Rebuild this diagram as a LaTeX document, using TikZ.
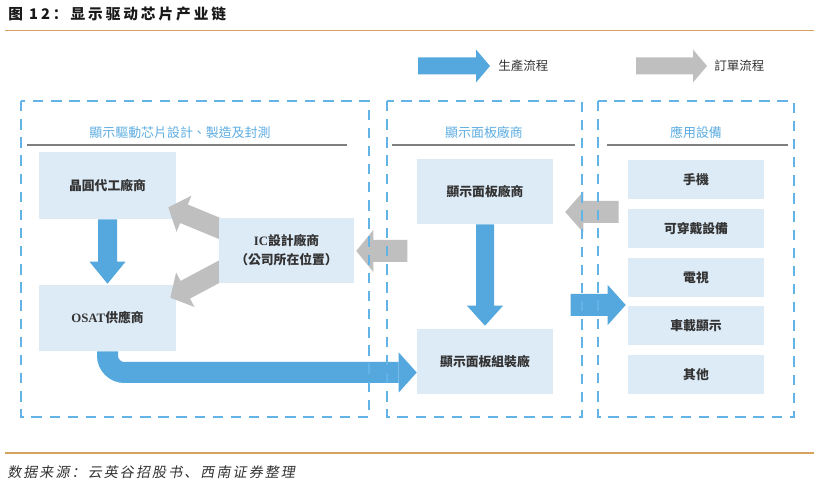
\documentclass[tikz,border=0pt]{standalone}
\usepackage{fontspec}
\setmainfont{Liberation Serif}
\newfontfamily\cjktc{Noto Sans CJK TC}
\newfontfamily\cjktitle{Noto Sans CJK SC}[LetterSpace=20]
\newfontfamily\cjkfoot{Noto Sans CJK SC}[FakeSlant=0.18,LetterSpace=15]
\usetikzlibrary{calc}
\pgfdeclarelayer{background}
\pgfdeclarelayer{arrowlayer}
\pgfsetlayers{background,arrowlayer,main}

\definecolor{arrowblue}{HTML}{55A8DD}
\definecolor{arrowgray}{HTML}{BFBFBF}
\definecolor{boxfill}{HTML}{DDEBF7}
\definecolor{dashblue}{HTML}{62B4E6}
\definecolor{headblue}{HTML}{5DADE2}
\definecolor{rulegray}{HTML}{7F7F7F}
\definecolor{titleorange}{HTML}{D6A25E}
\definecolor{textdark}{HTML}{333333}

\newcommand\boxfont{\fontsize{9.6pt}{14.25pt}\selectfont\cjktc\bfseries}
\newcommand\hdrfont{\fontsize{9.7pt}{12pt}\selectfont\cjktc}
\newcommand\legfont{\fontsize{9.4pt}{12pt}\selectfont\cjktc}

% block arrow: colour, from, to, shaft width, head width, head length (px)
\newcommand\blockarrow[6]{%
  \coordinate (ba-n) at ($(#3)!#6*0.75pt!(#2)$);
  \fill[#1] ($(#2)!#4*0.375pt!90:(#3)$) -- ($(ba-n)!#4*0.375pt!90:(#3)$)
    -- ($(ba-n)!#5*0.375pt!90:(#3)$) -- (#3) -- ($(ba-n)!#5*0.375pt!-90:(#3)$)
    -- ($(ba-n)!#4*0.375pt!-90:(#3)$) -- ($(#2)!#4*0.375pt!-90:(#3)$) -- cycle;}

\tikzset{
  box/.style={fill=boxfill, inner sep=0pt, text=textdark, font=\boxfont, align=center},
  sz/.style 2 args={minimum width=#1*0.75pt, minimum height=#2*0.75pt},
  frame/.style={draw=dashblue, line width=1.2pt, dash pattern=on 7.8pt off 5.8pt},
  hdr/.style={text=headblue, font=\hdrfont, inner sep=0pt},
  hrule/.style={draw=rulegray, line width=1.1pt},
  legtext/.style={anchor=west, inner sep=0pt, text=textdark, font=\legfont},
}

\begin{document}
\begin{tikzpicture}[x=0.75pt,y=-0.75pt]
\useasboundingbox (0,0) rectangle (821,484);

% title and rules
\node[anchor=west, inner sep=0pt, font=\fontsize{11pt}{13pt}\selectfont\cjktitle\bfseries, text=black!90] (title) at (8,14) {图 12：显示驱动芯片产业链};
\draw[titleorange, line width=1pt] (5,30.5) -- (814,30.5);
\draw[titleorange, line width=1pt] (5,453) -- (814,453);
\node[anchor=west, inner sep=0pt, font=\fontsize{10.5pt}{13pt}\selectfont\cjkfoot, text=textdark] (src) at (7,472) {数据来源：云英谷招股书、西南证券整理};

% legend
\coordinate (lb1) at (418,66); \coordinate (lb2) at (490,66);
\blockarrow{arrowblue}{lb1}{lb2}{17}{33}{14}
\node[legtext] (legprod) at (498,66) {生產流程};
\coordinate (lg1) at (636,66); \coordinate (lg2) at (707,66);
\blockarrow{arrowgray}{lg1}{lg2}{17}{33}{14}
\node[legtext] (legorder) at (714,66) {訂單流程};

% boxes (background layer)
\begin{pgfonlayer}{background}
\fill[white] (0,0) rectangle (821,484);
\node[box, sz={137}{67}] (wafer) at (107.5,185.5) {晶圓代工廠商};
\node[box, sz={137}{66}] (osat) at (107.5,318) {{\rmfamily\bfseries OSAT}供應商};
\node[box, sz={136}{65}] (panel) at (485,191.5) {顯示面板廠商};
\node[box, sz={136}{65}] (assy) at (485,361.5) {顯示面板組裝廠};
\node[box, sz={136}{39}] (phone) at (696,179.5) {手機};
\node[box, sz={136}{39}] (wear) at (696,228.5) {可穿戴設備};
\node[box, sz={136}{39}] (tv) at (696,277.5) {電視};
\node[box, sz={136}{39}] (car) at (696,325.5) {車載顯示};
\node[box, sz={136}{39}] (other) at (696,374.5) {其他};
\end{pgfonlayer}

\node[box, sz={135}{65}] (ic) at (286.5,250.5) {{\rmfamily\bfseries IC}設計廠商\\（公司所在位置）};

% dashed frames
\draw[frame] (21,101) rectangle (369,417);
\draw[frame] (387,101) rectangle (582,417);
\draw[frame] (598,101) rectangle (794,417);

% headers
\node[hdr] (h1) at (180,132.5) {顯示驅動芯片設計、製造及封測};
\draw[hrule] (27,145) -- (347,145);
\node[hdr] (h2) at (484,132.5) {顯示面板廠商};
\draw[hrule] (392,145) -- (575,145);
\node[hdr] (h3) at (696,132.5) {應用設備};
\draw[hrule] (607,145) -- (788,145);

% arrows
\begin{pgfonlayer}{arrowlayer}
% production flow
\coordinate (w2o) at ($(osat.north)+(0,-1)$);
\blockarrow{arrowblue}{wafer.south}{w2o}{19}{36}{22}
\coordinate (p2a) at ($(assy.north)+(0,-3)$);
\blockarrow{arrowblue}{panel.south}{p2a}{18}{36}{20}
\coordinate (m2rs) at ($(car.west)+(-57,-20.5)$);
\coordinate (m2re) at ($(car.west)+(-2,-20.5)$);
\blockarrow{arrowblue}{m2rs}{m2re}{22}{40}{18}
\coordinate (oaN) at ($(assy.west)+(-18,11)$);
\coordinate (oaT) at ($(assy.west)+(0,11)$);
\draw[arrowblue, line width=21*0.75pt, rounded corners=17*0.75pt] (osat.south) |- (oaN);
\blockarrow{arrowblue}{oaN}{oaT}{21}{40}{18}
% order flow
\coordinate (r2ps) at ($(phone.west)+(-9,32.5)$);
\coordinate (r2pe) at ($(panel.east)+(12,20.5)$);
\blockarrow{arrowgray}{r2ps}{r2pe}{22}{41}{18}
\coordinate (p2is) at ($(ic.east)+(53,0.5)$);
\coordinate (p2ie) at ($(ic.east)+(2,0.5)$);
\blockarrow{arrowgray}{p2is}{p2ie}{22}{42}{17}
\coordinate (i2ws) at ($(ic.west)+(7,-19.5)$);
\coordinate (i2we) at ($(wafer.south east)+(-8,-12)$);
\blockarrow{arrowgray}{i2ws}{i2we}{20}{39}{17}
\coordinate (i2os) at ($(ic.west)+(6.5,18)$);
\coordinate (i2oe) at ($(osat.north east)+(-6,13)$);
\blockarrow{arrowgray}{i2os}{i2oe}{20}{39}{17}
\end{pgfonlayer}
\end{tikzpicture}
\end{document}
